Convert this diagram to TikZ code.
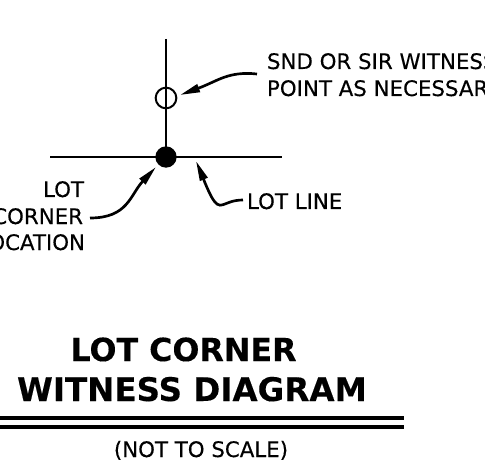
\documentclass[tikz,border=0pt]{standalone}
\usepackage{fontspec}
\setmainfont{DejaVu Sans}[FakeBold=0.25]
\newfontfamily\ttlfont{DejaVu Sans Bold}[FakeBold=0.25]
\usetikzlibrary{arrows.meta}
\tikzset{
  lbl/.style={inner sep=0pt,outer sep=0pt,font=\fontsize{16}{18}\selectfont},
  ttl/.style={inner sep=0pt,outer sep=0pt,font=\ttlfont\fontsize{24.4}{28}\selectfont},
  ttlb/.style={inner sep=0pt,outer sep=0pt,font=\ttlfont\fontsize{23.8}{28}\selectfont},
  heavy/.style={line width=2.2pt,black},
  leader/.style={line width=2pt,black,-{Stealth[length=15pt,width=6pt,inset=0pt]}},
  rulei/.style={line width=3pt,black}
}
\begin{document}
\begin{tikzpicture}[x=0.75pt,y=-0.75pt]
\useasboundingbox (0,0) rectangle (485,470);
\clip (0,0) rectangle (485,470);
\coordinate (vt) at (166,39);
\coordinate (hl) at (50,157);
\coordinate (hr) at (282,157);
\node[circle,fill=black,minimum size=16pt,inner sep=0pt] (corner) at (166,157) {};
\node[circle,draw=black,line width=1.5pt,minimum size=15.5pt,inner sep=0pt] (witness) at (166,98) {};
\draw[heavy] (vt) -- (corner.center);
\draw[heavy] (hl) -- (hr);
\node[lbl,anchor=base west] (snd) at (267,69) {SND OR SIR WITNESS};
\node[lbl,anchor=base west] (pt) at (267,96) {POINT AS NECESSARY};
\node[lbl,anchor=base west] (lotline) at (247,209) {LOT LINE};
\node[lbl,anchor=base east] (lot) at (84,197) {LOT};
\node[lbl,anchor=base east] (cor) at (83,224) {CORNER};
\node[lbl,anchor=base east] (loc) at (85,250) {LOCATION};
\node[ttlb,anchor=base] (t1) at (183.5,361) {LOT CORNER};
\node[ttl,anchor=base] (t2) at (192,401) {WITNESS DIAGRAM};
\node[lbl,anchor=base] (ns) at (201,457) {(NOT TO SCALE)};
\coordinate (r1l) at (0,417.5); \coordinate (r1r) at (404,417.5);
\coordinate (r2l) at (0,427); \coordinate (r2r) at (404,427);
\draw[rulei] (r1l) -- (r1r);
\draw[rulei] (r2l) -- (r2r);
\coordinate (a1s) at (257,74);
\coordinate (a2s) at (243,200);
\coordinate (a3s) at (90,218);
\draw[leader] (a1s) .. controls (228,71) and (218,81) .. (180,95);
\draw[leader] (a2s) .. controls (222,200) and (221,214) .. (211,196) .. controls (205,184) and (202,175) .. (196,161);
\draw[leader] (a3s) .. controls (128,218) and (130,195) .. (156,167);
\end{tikzpicture}
\end{document}
